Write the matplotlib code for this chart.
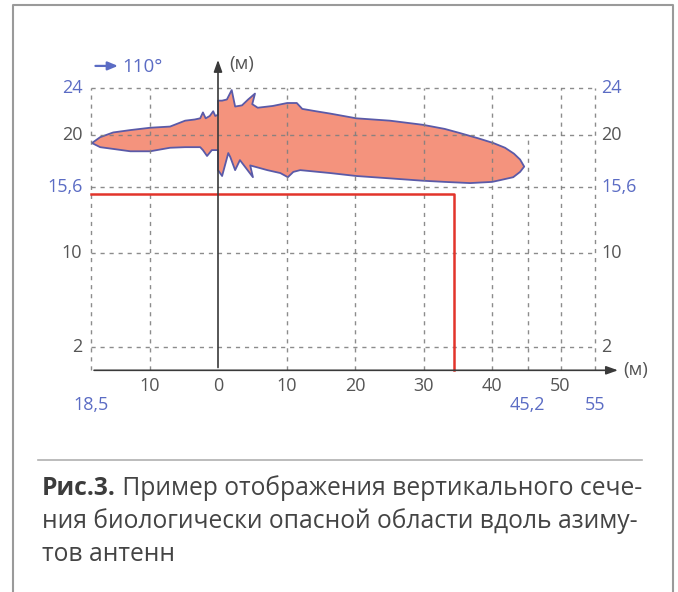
import matplotlib
matplotlib.use('Agg')
import matplotlib.pyplot as plt

plt.rcParams['font.family'] = ['Open Sans', 'DejaVu Sans']

# контур опасной области (м): горизонталь, высота
lobe_x = [-18.4, -17.2, -15.3, -12.8, -9.9, -7.0, -4.8, -3.4, -2.6, -2.2, -1.8, -1.2, -0.7, -0.4, 0.0,
          0.0, 0.6, 1.3, 2.0, 2.5, 3.5, 4.4, 5.4, 5.0, 5.8, 8.0, 10.1, 11.5, 12.3, 14.3, 16.4, 20.2,
          25.1, 29.9, 33.1, 35.3, 38.0, 40.2, 41.9, 43.2, 44.1, 44.7,
          44.1, 43.1, 41.2, 40.0, 36.8, 33.1, 29.9, 25.1, 20.2, 16.4, 12.0, 11.0, 10.2, 9.1, 7.2,
          4.7, 5.1, 3.2, 2.5, 1.8, 1.5, 0.6, 0.0,
          0.0, -0.9, -1.6, -2.2, -2.6, -4.8, -7.0, -9.9, -12.8, -15.3, -17.2]
lobe_y = [19.3, 19.8, 20.2, 20.4, 20.6, 20.7, 21.2, 21.3, 21.4, 21.9, 21.4, 21.6, 22.0, 21.6, 21.7,
          22.9, 22.9, 23.0, 23.8, 22.4, 22.5, 23.0, 23.5, 22.6, 22.3, 22.45, 22.7, 22.7, 22.2, 22.0, 21.8, 21.4,
          21.2, 20.85, 20.5, 20.15, 19.7, 19.3, 18.9, 18.4, 17.9, 17.3,
          16.85, 16.4, 16.15, 16.0, 15.9, 16.0, 16.1, 16.3, 16.5, 16.75, 17.0, 16.85, 16.4, 16.75, 17.0,
          17.4, 16.4, 17.85, 17.0, 18.1, 18.45, 16.5, 17.0,
          18.7, 18.7, 18.2, 18.7, 18.95, 18.95, 18.9, 18.6, 18.6, 18.8, 18.95]

# граница (красная линия)
x_left = -18.5
x_red = 34.5
y_red = 15.0

grid_x = [-18.5, -10, 10, 20, 30, 40, 45.2, 50, 55]
grid_y = [2, 10, 15.6, 20, 24]
xtick_pos = [-10, 0, 10, 20, 30, 40, 50]
xtick_lbl = ['10', '0', '10', '20', '30', '40', '50']
xblue_pos = [-18.5, 45.2, 55]
xblue_lbl = ['18,5', '45,2', '55']
ytick_pos = [24, 20, 15.6, 10, 2]
ytick_lbl = ['24', '20', '15,6', '10', '2']
ytick_blue = [True, False, True, False, False]

caption_bold = 'Рис.3.'
caption_lines = [' Пример отображения вертикального сече-',
                 'ния биологически опасной области вдоль азиму-',
                 'тов антенн']

W, H = 678, 592
fig = plt.figure(figsize=(W / 100, H / 100), dpi=100)
fig.patch.set_facecolor('white')

# пиксельная сетка: x0 = 218 px, 6.85 px/м; y0 = 370.3 px, 11.775 px/м
sx, sy = 6.85, 11.775
ax = fig.add_axes([0, 0, 1, 1])
ax.set_xlim(-218 / sx, (W - 218) / sx)
ax.set_ylim(-(H - 370.3) / sy, 370.3 / sy)
ax.axis('off')

blue = '#5b6cc4'
grey = '#555555'
gridc = '#808080'
fs_tick = 13

# заливка области
ax.fill(lobe_x, lobe_y, facecolor='#f4937d', edgecolor='#5a5aa8', lw=1.3, joinstyle='round', zorder=2)

# сетка
for gx in grid_x:
    top = 20 if gx == 45.2 else 24
    ax.plot([gx, gx], [0, top], ls=(0, (3, 3.5)), color=gridc, lw=1, alpha=0.9, zorder=3)
for gy in grid_y:
    ax.plot([x_left, 55], [gy, gy], ls=(0, (3, 3.5)), color=gridc, lw=1, alpha=0.9, zorder=3)

# красный контур
ax.plot([x_left, x_red, x_red], [y_red, y_red, 0], color='#e2342b', lw=1.8, zorder=4)

# оси
ax.annotate('', xy=(58.8, 0), xytext=(x_left, 0),
            arrowprops=dict(arrowstyle='-|>,head_length=0.7,head_width=0.25', color='#3a3a3a', lw=1.2), zorder=5)
ax.annotate('', xy=(0, 26.6), xytext=(0, 0),
            arrowprops=dict(arrowstyle='-|>,head_length=0.7,head_width=0.25', color='#3a3a3a', lw=1.2), zorder=5)
ax.text(59.2, 0.0, '(м)', fontsize=13.5, color=grey, va='center', ha='left')
ax.text(1.6, 26.0, '(м)', fontsize=13.5, color=grey, va='center', ha='left')

# направление
ax.annotate('', xy=(-14.2, 25.85), xytext=(-18.3, 25.85),
            arrowprops=dict(arrowstyle='-|>,head_length=0.6,head_width=0.25', color=blue, lw=1.6))
ax.text(-14.0, 25.75, '110°', fontsize=13.5, color=blue, va='center', ha='left')

# подписи осей
for p, l in zip(xtick_pos, xtick_lbl):
    ax.text(p, -1.35, l, fontsize=fs_tick, color=grey, ha='center', va='center')
for p, l in zip(xblue_pos, xblue_lbl):
    ax.text(p, -2.95, l, fontsize=fs_tick, color=blue, ha='center', va='center')
for p, l, b in zip(ytick_pos, ytick_lbl, ytick_blue):
    c = blue if b else grey
    ax.text(-19.8, p, l, fontsize=fs_tick, color=c, ha='right', va='center')
    ax.text(56.0, p, l, fontsize=fs_tick, color=c, ha='left', va='center')

# рамка
fig.add_artist(plt.Line2D([12.5 / W, 12.5 / W, 673 / W, 673 / W], [0, 1 - 5 / H, 1 - 5 / H, 0],
                          color='#9a9a9a', lw=1.5))
fig.add_artist(plt.Line2D([38 / W, 642 / W], [1 - 460 / H, 1 - 460 / H], color='#b0b0b0', lw=1.2))

# подпись рисунка
fs = 17.7
tx = 41.7 / W
r = fig.canvas.get_renderer()
t0 = fig.text(tx, 1 - 495 / H, caption_bold, fontsize=fs, fontweight='bold', color='#3c3c3c', va='baseline')
bb = t0.get_window_extent(renderer=r)
fig.text(bb.x1 / W, 1 - 495 / H, caption_lines[0], fontsize=fs, color='#444444', va='baseline')
fig.text(tx, 1 - 528 / H, caption_lines[1], fontsize=fs, color='#444444', va='baseline')
fig.text(tx, 1 - 561 / H, caption_lines[2], fontsize=fs, color='#444444', va='baseline')

fig.savefig('out.png', dpi=100)
